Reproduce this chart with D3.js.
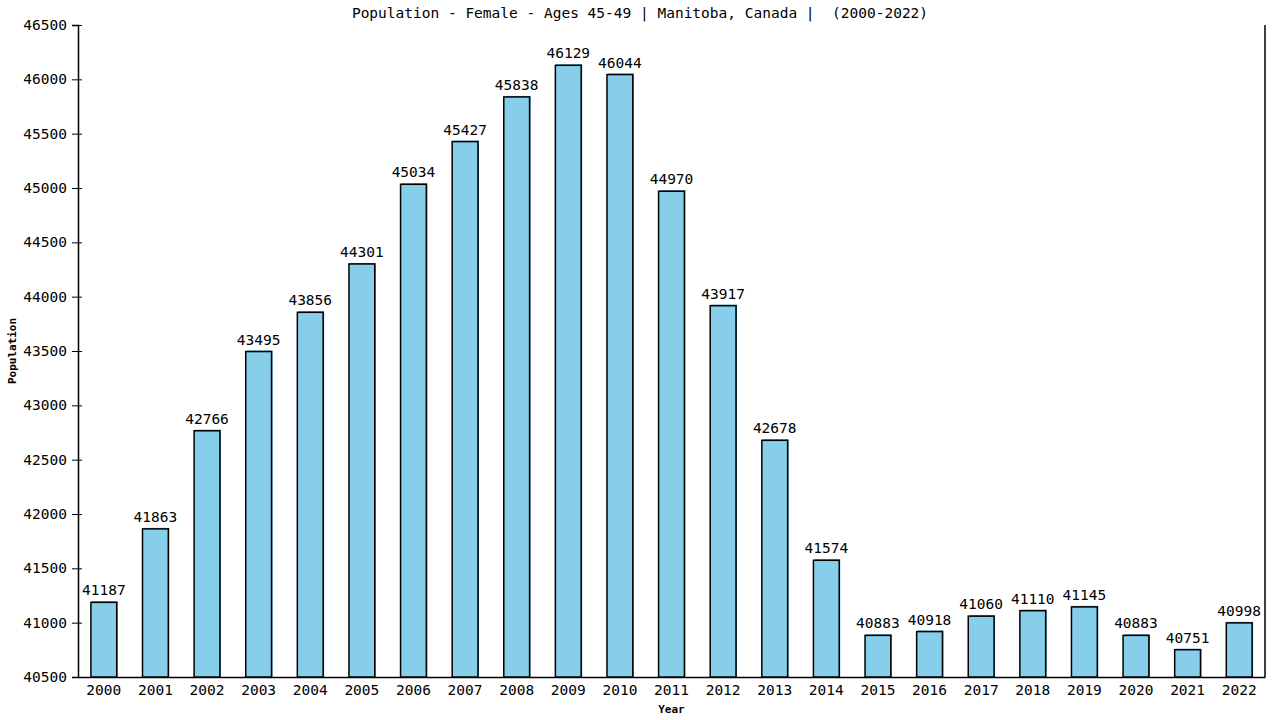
<!DOCTYPE html>
<html lang="en">
<head>
    <meta charset="UTF-8">
    <title>Population - Female - Ages 45-49 | Manitoba, Canada</title>
    <script src="https://d3js.org/d3.v7.min.js"></script>
    <style>
        html, body {
            margin: 0;
            padding: 0;
            background: #ffffff;
        }
        svg {
            display: block;
            font-family: "DejaVu Sans Mono", monospace;
        }
        .bar {
            fill: #87CEEB;
            stroke: #000;
            stroke-width: 1.5;
        }
        .bar-edge {
            fill: #3a8fc0;
        }
    </style>
</head>
<body>
    <svg id="chart" width="1280" height="720"></svg>

    <script>
        // chart data
        var years = ["2000", "2001", "2002", "2003", "2004", "2005", "2006", "2007", "2008", "2009", "2010", "2011",
                     "2012", "2013", "2014", "2015", "2016", "2017", "2018", "2019", "2020", "2021", "2022"];
        var population = [41187, 41863, 42766, 43495, 43856, 44301, 45034, 45427, 45838, 46129, 46044, 44970,
                          43917, 42678, 41574, 40883, 40918, 41060, 41110, 41145, 40883, 40751, 40998];
        var yTicks = [40500, 41000, 41500, 42000, 42500, 43000, 43500, 44000, 44500, 45000, 45500, 46000, 46500];

        var margin = {top: 25, right: 15, bottom: 43, left: 78},
            width = 1280 - margin.left - margin.right,
            height = 720 - margin.top - margin.bottom;

        var svg = d3.select("#chart");
        var g = svg.append("g")
            .attr("transform", "translate(" + margin.left + "," + margin.top + ")");

        var x = d3.scaleBand().domain(years).range([0, width]).paddingInner(0.5).paddingOuter(0.25);
        var y = d3.scaleLinear().domain([40500, 46500]).range([height, 0]);

        // y axis with ticks crossing the line
        var yAxis = g.append("g")
            .call(d3.axisLeft(y).tickValues(yTicks).tickSize(6).tickPadding(5).tickFormat(d3.format("d")));
        yAxis.selectAll(".tick line").attr("x2", 4).attr("x1", -6).attr("stroke", "#000");
        yAxis.select(".domain").attr("stroke", "#000").attr("stroke-width", 1.5);
        yAxis.selectAll("text")
            .attr("fill", "#000")
            .style("font-family", "DejaVu Sans Mono, monospace")
            .style("font-size", "14.5px");

        // x axis
        var xAxis = g.append("g")
            .attr("transform", "translate(0," + height + ")")
            .call(d3.axisBottom(x).tickSize(0).tickPadding(8));
        xAxis.select(".domain").attr("stroke", "#000").attr("stroke-width", 1.5);
        xAxis.selectAll("text")
            .attr("fill", "#000")
            .style("font-family", "DejaVu Sans Mono, monospace")
            .style("font-size", "14.5px");

        // right border line
        g.append("line")
            .attr("x1", width).attr("x2", width)
            .attr("y1", 0).attr("y2", height)
            .attr("stroke", "#000").attr("stroke-width", 1.5);

        // bars: thin blue edge behind, then the outlined bar
        g.selectAll(".bar-edge")
            .data(population)
            .enter().append("rect")
            .attr("class", "bar-edge")
            .attr("x", function(d, i) { return x(years[i]) + 1; })
            .attr("y", function(d) { return y(d) - 1; })
            .attr("width", x.bandwidth())
            .attr("height", function(d) { return height - y(d) + 1; });

        g.selectAll(".bar")
            .data(population)
            .enter().append("rect")
            .attr("class", "bar")
            .attr("x", function(d, i) { return x(years[i]); })
            .attr("y", function(d) { return y(d); })
            .attr("width", x.bandwidth())
            .attr("height", function(d) { return height - y(d); });

        // value labels
        g.selectAll(".value")
            .data(population)
            .enter().append("text")
            .attr("class", "value")
            .attr("x", function(d, i) { return x(years[i]) + x.bandwidth() / 2; })
            .attr("y", function(d) { return y(d) - 7; })
            .attr("text-anchor", "middle")
            .style("font-size", "14.5px")
            .text(function(d) { return d; });

        // title
        svg.append("text")
            .attr("x", 640)
            .attr("y", 18)
            .attr("text-anchor", "middle")
            .style("font-size", "14.5px")
            .style("white-space", "pre")
            .text("Population - Female - Ages 45-49 | Manitoba, Canada |  (2000-2022)");

        // axis titles
        svg.append("text")
            .attr("transform", "translate(16," + (margin.top + height / 2) + ") rotate(-90)")
            .attr("text-anchor", "middle")
            .style("font-size", "11px")
            .style("font-weight", "bold")
            .text("Population");

        svg.append("text")
            .attr("x", margin.left + width / 2)
            .attr("y", 713)
            .attr("text-anchor", "middle")
            .style("font-size", "11px")
            .style("font-weight", "bold")
            .text("Year");
    </script>
</body>
</html>
